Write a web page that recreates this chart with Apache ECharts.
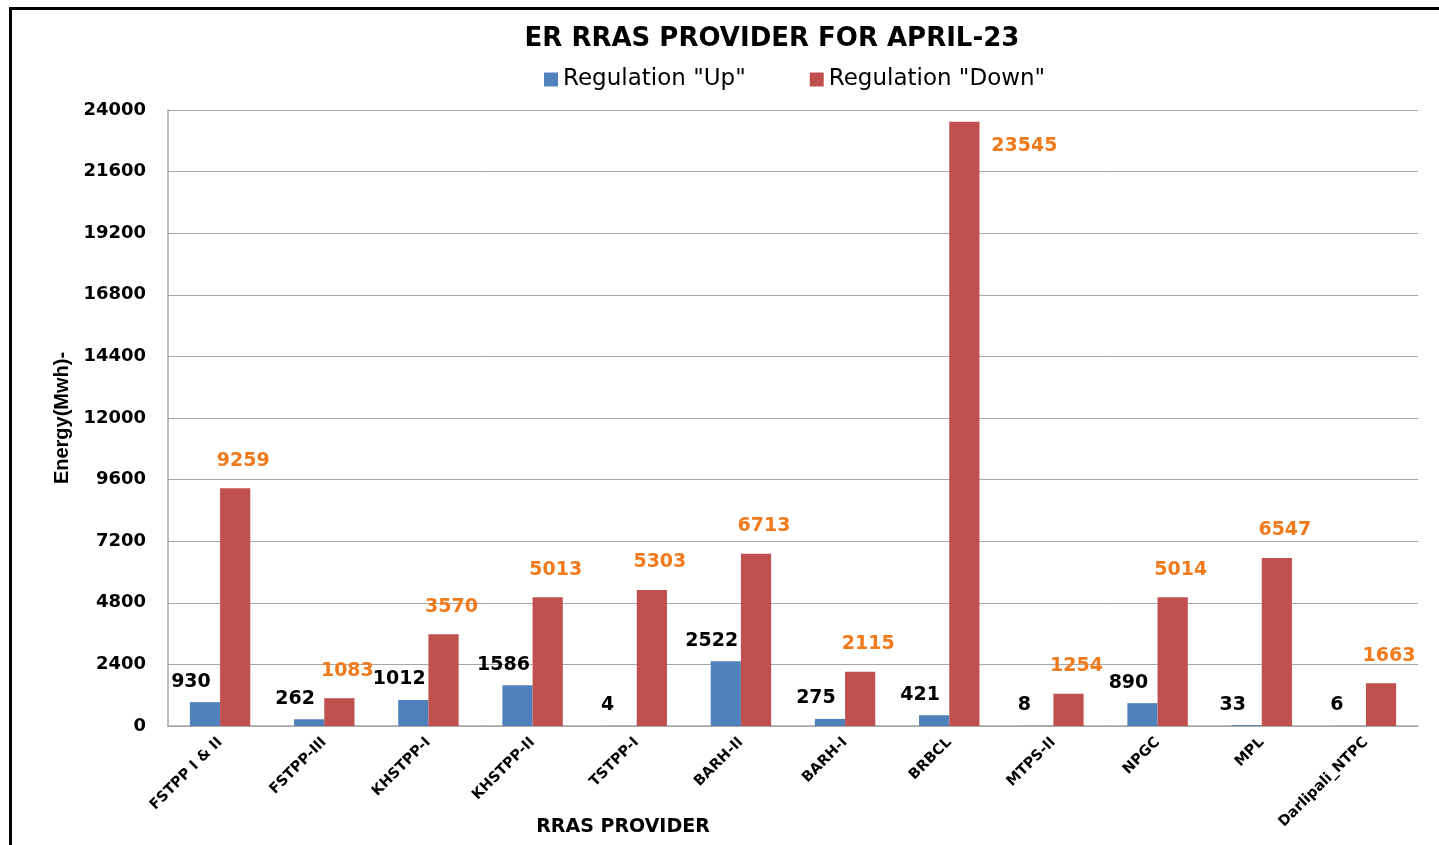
<!DOCTYPE html>
<html><head><meta charset="utf-8">
<script src="https://cdn.jsdelivr.net/npm/echarts@6/dist/echarts.min.js"></script>
<style>
html,body{margin:0;padding:0;background:#fff;overflow:hidden}
#frame{position:absolute;left:9px;top:7px;width:1450px;height:900px;border:3px solid #000;box-sizing:border-box}
#c{position:absolute;left:0;top:0;width:1439px;height:845px}
</style></head><body>
<div id="frame"></div>
<div id="c"></div>
<script>
const categories = ["FSTPP I & II","FSTPP-III","KHSTPP-I","KHSTPP-II","TSTPP-I","BARH-II","BARH-I","BRBCL","MTPS-II","NPGC","MPL","Darlipali_NTPC"];
const upValues = [930,262,1012,1586,4,2522,275,421,8,890,33,6];
const downValues = [9259,1083,3570,5013,5303,6713,2115,23545,1254,5014,6547,1663];
const seriesNames = ['Regulation "Up"','Regulation "Down"'];
const yMax = 24000, yStep = 2400;

const F = 'DejaVu Sans, Verdana, sans-serif';
// labels of bars that reach the top of the plot sit beside the bar
const downData = downValues.map(v => v > yMax * 0.9
  ? {value: v, label: {position: [34, 28]}}
  : v);

const chart = echarts.init(document.getElementById('c'));
chart.setOption({
  animation:false,
  title:[
    {text:'ER RRAS PROVIDER FOR APRIL-23',left:767,textAlign:'center',top:21,
     textStyle:{fontFamily:F,fontWeight:'bold',fontSize:26,color:'#000'}},
    {text:'RRAS PROVIDER',left:618,textAlign:'center',top:813,
     textStyle:{fontFamily:F,fontWeight:'bold',fontSize:19,color:'#000'}}
  ],
  legend:{top:63,left:539,itemWidth:14,itemHeight:14,itemGap:64,icon:'rect',
    textStyle:{fontFamily:F,fontSize:23,color:'#000'}},
  grid:{left:168,right:21,top:110,bottom:119,outerBoundsMode:'none',containLabel:false},
  xAxis:{type:'category',data:categories,
    axisLine:{lineStyle:{color:'#a6a6a6',width:1.5}},axisTick:{show:false},
    axisLabel:{rotate:45,interval:0,margin:14,fontFamily:F,fontWeight:'bold',fontSize:14.5,color:'#000'}},
  yAxis:{type:'value',min:0,max:yMax,interval:yStep,
    name:'Energy(Mwh)-',nameLocation:'middle',nameGap:96,
    nameTextStyle:{fontFamily:'Liberation Sans Narrow, Liberation Sans, sans-serif',fontWeight:'bold',fontSize:20,color:'#000'},
    axisLine:{show:true,lineStyle:{color:'#a6a6a6',width:1.5}},
    splitLine:{lineStyle:{color:'#a6a6a6',width:1}},
    axisLabel:{margin:22,formatter:v => String(v),fontFamily:F,fontWeight:'bold',fontSize:18,color:'#000'}},
  series:[
    {name:seriesNames[0],type:'bar',data:upValues,barGap:'0%',barCategoryGap:'42%',
      itemStyle:{color:'#4f81bd'},
      label:{show:true,position:'top',offset:[-14,-6],fontFamily:F,fontWeight:'bold',fontSize:19,color:'#000'}},
    {name:seriesNames[1],type:'bar',data:downData,
      itemStyle:{color:'#c0504d'},
      label:{show:true,position:'top',offset:[8,-13],fontFamily:F,fontWeight:'bold',fontSize:19,color:'#f07a1c'}}
  ]
});
</script></body></html>
